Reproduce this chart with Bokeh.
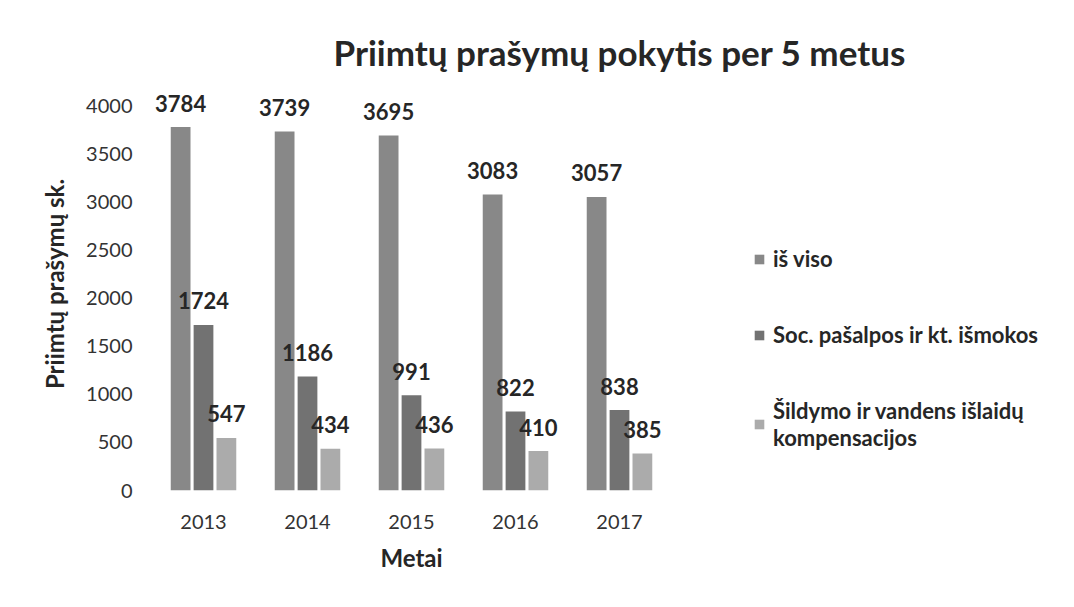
from bokeh.plotting import figure
from bokeh.models import ColumnDataSource, FactorRange, Range1d, Legend, LegendItem, SingleIntervalTicker
from bokeh.transform import dodge
from bokeh.core.properties import value
from bokeh.embed import file_html
from bokeh.resources import INLINE

years = ["2013", "2014", "2015", "2016", "2017"]
is_viso = [3784, 3739, 3695, 3083, 3057]
soc_pasalpos = [1724, 1186, 991, 822, 838]
sildymas = [547, 434, 436, 410, 385]
series_names = ["iš viso", "Soc. pašalpos ir kt. išmokos", "Šildymo ir vandens išlaidų\nkompensacijos"]
colors = ["#888888", "#727272", "#ababab"]

FONT = "Lato"

src = ColumnDataSource(dict(
    year=years,
    a=is_viso, b=soc_pasalpos, c=sildymas,
    at=[str(v) for v in is_viso], bt=[str(v) for v in soc_pasalpos], ct=[str(v) for v in sildymas],
))

p = figure(
    x_range=FactorRange(factors=years),
    y_range=Range1d(0, 4300),
    frame_width=520, frame_height=413,
    min_border_left=151, min_border_right=10, min_border_top=77, min_border_bottom=101,
    output_backend="svg", toolbar_location=None,
)
p.outline_line_color = None
p.grid.grid_line_color = None
p.background_fill_color = "white"
p.border_fill_color = "white"

offsets = [-0.22, 0.0, 0.22]
bw = 0.19
renderers = []
for key, off, col in zip(["a", "b", "c"], offsets, colors):
    r = p.vbar(x=dodge("year", off, range=p.x_range), top=key, width=bw, source=src,
               fill_color=col, line_color=None)
    renderers.append(r)
    p.text(x=dodge("year", off, range=p.x_range), y=key, text=key + "t", source=src,
           text_font=value(FONT), text_font_style="bold", text_font_size="22px",
           text_color="#262626", text_align="center", text_baseline="alphabetic", y_offset=-24)

# axes
p.yaxis.ticker = SingleIntervalTicker(interval=500)
for ax in (p.xaxis[0], p.yaxis[0]):
    ax.axis_line_color = None
    ax.major_tick_line_color = None
    ax.minor_tick_line_color = None
    ax.major_tick_out = 0
    ax.major_tick_in = 0
    ax.minor_tick_out = 0
    ax.major_label_text_font = FONT
    ax.major_label_text_font_size = "20px"
    ax.major_label_text_color = "#333333"
    ax.axis_label_text_font = FONT
    ax.axis_label_text_font_style = "bold"
    ax.axis_label_text_color = "#262626"
p.xaxis.axis_label_text_font_size = "24px"
p.yaxis.axis_label_text_font_size = "24px"
p.yaxis.major_label_standoff = 19
p.xaxis.major_label_standoff = 24
p.yaxis.axis_label = "Priimtų prašymų sk."
p.xaxis.axis_label = "Metai"
p.yaxis.axis_label_standoff = 14
p.xaxis.axis_label_standoff = 11

# title
p.title.text = "Priimtų prašymų pokytis per 5 metus"
p.title.align = "left"
p.title.offset = 182
p.title.text_font = FONT
p.title.text_font_style = "bold"
p.title.text_font_size = "35px"
p.title.text_color = "#262626"
p.title.standoff = 10

legend = Legend(
    items=[LegendItem(label=n, renderers=[r]) for n, r in zip(series_names, renderers)],
    location=(82, 39), margin=0,
    glyph_width=12, glyph_height=12, label_standoff=8, spacing=49,
    label_text_font=FONT, label_text_font_style="bold", label_text_font_size="22px",
    label_text_color="#262626", border_line_color=None, background_fill_alpha=0,
    padding=0,
)
p.add_layout(legend, "right")

open("out.html", "w").write(file_html(p, INLINE))
